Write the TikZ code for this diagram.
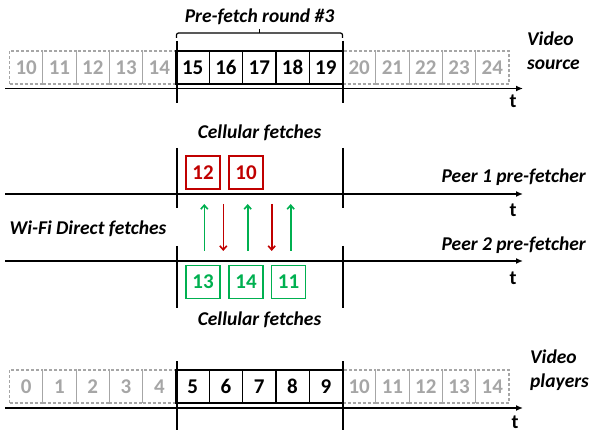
\documentclass[tikz,border=0pt]{standalone}
\usepackage{fontspec}
\setmainfont{Carlito}
\usetikzlibrary{arrows.meta}
\definecolor{cred}{HTML}{C00000}
\definecolor{cgreen}{HTML}{00B050}
\definecolor{cgray}{HTML}{A6A6A6}
\tikzset{
  cellbase/.style={minimum width=33.3pt,minimum height=33pt,inner sep=0pt,outer sep=0pt,font=\fontsize{21}{21}\selectfont\bfseries},
  dcell/.style={cellbase,draw=cgray,dashed,dash pattern=on 3pt off 2pt,line width=1.2pt,text=cgray},
  scell/.style={cellbase,draw=black,line width=1.3pt,text=black},
  rbox/.style={cellbase,minimum width=34pt,draw=cred,line width=1.5pt,text=cred},
  gbox/.style={cellbase,minimum width=34pt,draw=cgreen,line width=1.5pt,text=cgreen},
  lbl/.style={font=\fontsize{19.5}{24}\selectfont\bfseries\itshape,inner sep=0pt},
  tlbl/.style={font=\fontsize{20}{20}\selectfont\bfseries,inner sep=0pt},
  axis/.style={line width=1.4pt,-{Latex[length=7pt,width=6pt]}},
  vline/.style={line width=2pt},
  upar/.style={cgreen,line width=1.6pt,-{Straight Barb[length=4pt,width=7pt]}},
  dnar/.style={cred,line width=1.6pt,-{Straight Barb[length=4pt,width=7pt]}}
}
\begin{document}
\begin{tikzpicture}[x=1pt,y=-1pt]
\useasboundingbox (0,0) rectangle (590,433);
% ---------- Video source row
\foreach \n [count=\i from 0] in {10,11,12,13,14}
  \node[dcell] (s\n) at ({9.5+33.3*\i+16.65},67.5) {\n};
\foreach \n [count=\i from 10] in {20,21,22,23,24}
  \node[dcell] (s\n) at ({9.5+33.3*\i+16.65},67.5) {\n};
\foreach \n [count=\i from 5] in {15,16,17,18,19}
  \node[scell] (s\n) at ({9.5+33.3*\i+16.65},67.5) {\n};
\coordinate (a1s) at (5,88.5);
\coordinate (a1e) at (523,88.5);
\draw[axis] (a1s) -- (a1e);
\coordinate (v1a) at (176.5,41); \coordinate (v1b) at (176.5,103);
\coordinate (v1c) at (342.5,41); \coordinate (v1d) at (342.5,103);
\draw[vline] (v1a) -- (v1b);
\draw[vline] (v1c) -- (v1d);
\coordinate (b1) at (176.5,38); \coordinate (b2) at (342.5,38);
\coordinate (bm) at (259.5,33); \coordinate (bt) at (259.5,29);
\draw[line width=1.2pt,rounded corners=2pt] (b1) |- (bm) -| (b2);
\draw[line width=1.2pt] (bm) -- (bt);
\node[lbl] (pr) at (259.5,17) {Pre-fetch round \#3};
\node[lbl,anchor=west,align=left] (vs) at (527,51) {Video\\source};
\node[tlbl] (t1) at (513,101) {t};
% ---------- Peer 1
\node[lbl] (cf1) at (259.5,133) {Cellular fetches};
\coordinate (a2s) at (5,194);
\coordinate (a2e) at (523,194);
\draw[axis] (a2s) -- (a2e);
\coordinate (v2a) at (176.5,148); \coordinate (v2b) at (176.5,208);
\coordinate (v2c) at (342.5,148); \coordinate (v2d) at (342.5,208);
\draw[vline] (v2a) -- (v2b);
\draw[vline] (v2c) -- (v2d);
\node[rbox] (r12) at (203,172.5) {12};
\node[rbox] (r10) at (246,172.5) {10};
\node[lbl,anchor=east] (p1) at (586,177) {Peer 1 pre-fetcher};
\node[tlbl] (t2) at (513,210) {t};
% ---------- arrows
\foreach \x [count=\k] in {204.3,247.7,290.7}{
  \coordinate (gu\k) at (\x,251); \coordinate (gt\k) at (\x,204);
  \draw[upar] (gu\k) -- (gt\k);}
\foreach \x [count=\k] in {223.3,271.7}{
  \coordinate (rd\k) at (\x,204); \coordinate (rt\k) at (\x,251);
  \draw[dnar] (rd\k) -- (rt\k);}
\node[lbl] (wf) at (88,229) {Wi-Fi Direct fetches};
% ---------- Peer 2
\coordinate (a3s) at (5,261);
\coordinate (a3e) at (523,261);
\draw[axis] (a3s) -- (a3e);
\coordinate (v3a) at (176.5,246); \coordinate (v3b) at (176.5,308);
\coordinate (v3c) at (342.5,246); \coordinate (v3d) at (342.5,308);
\draw[vline] (v3a) -- (v3b);
\draw[vline] (v3c) -- (v3d);
\node[gbox] (g13) at (203,282) {13};
\node[gbox] (g14) at (246,282) {14};
\node[gbox] (g11) at (288.5,282) {11};
\node[lbl,anchor=east] (p2) at (586,245) {Peer 2 pre-fetcher};
\node[tlbl] (t3) at (513,278) {t};
\node[lbl] (cf2) at (259.5,320) {Cellular fetches};
% ---------- Video players
\foreach \n [count=\i from 0] in {0,1,2,3,4}
  \node[dcell] (p\n) at ({9.5+33.3*\i+16.65},386.5) {\n};
\foreach \n [count=\i from 10] in {10,11,12,13,14}
  \node[dcell] (q\n) at ({9.5+33.3*\i+16.65},386.5) {\n};
\foreach \n [count=\i from 5] in {5,6,7,8,9}
  \node[scell] (p\n) at ({9.5+33.3*\i+16.65},386.5) {\n};
\coordinate (a4s) at (5,408);
\coordinate (a4e) at (523,408);
\draw[axis] (a4s) -- (a4e);
\coordinate (v4a) at (176.5,361); \coordinate (v4b) at (176.5,430);
\coordinate (v4c) at (342.5,361); \coordinate (v4d) at (342.5,430);
\draw[vline] (v4a) -- (v4b);
\draw[vline] (v4c) -- (v4d);
\node[lbl,anchor=west,align=left] (vp) at (530,370) {Video\\players};
\node[tlbl] (t4) at (515,422) {t};
\end{tikzpicture}
\end{document}
